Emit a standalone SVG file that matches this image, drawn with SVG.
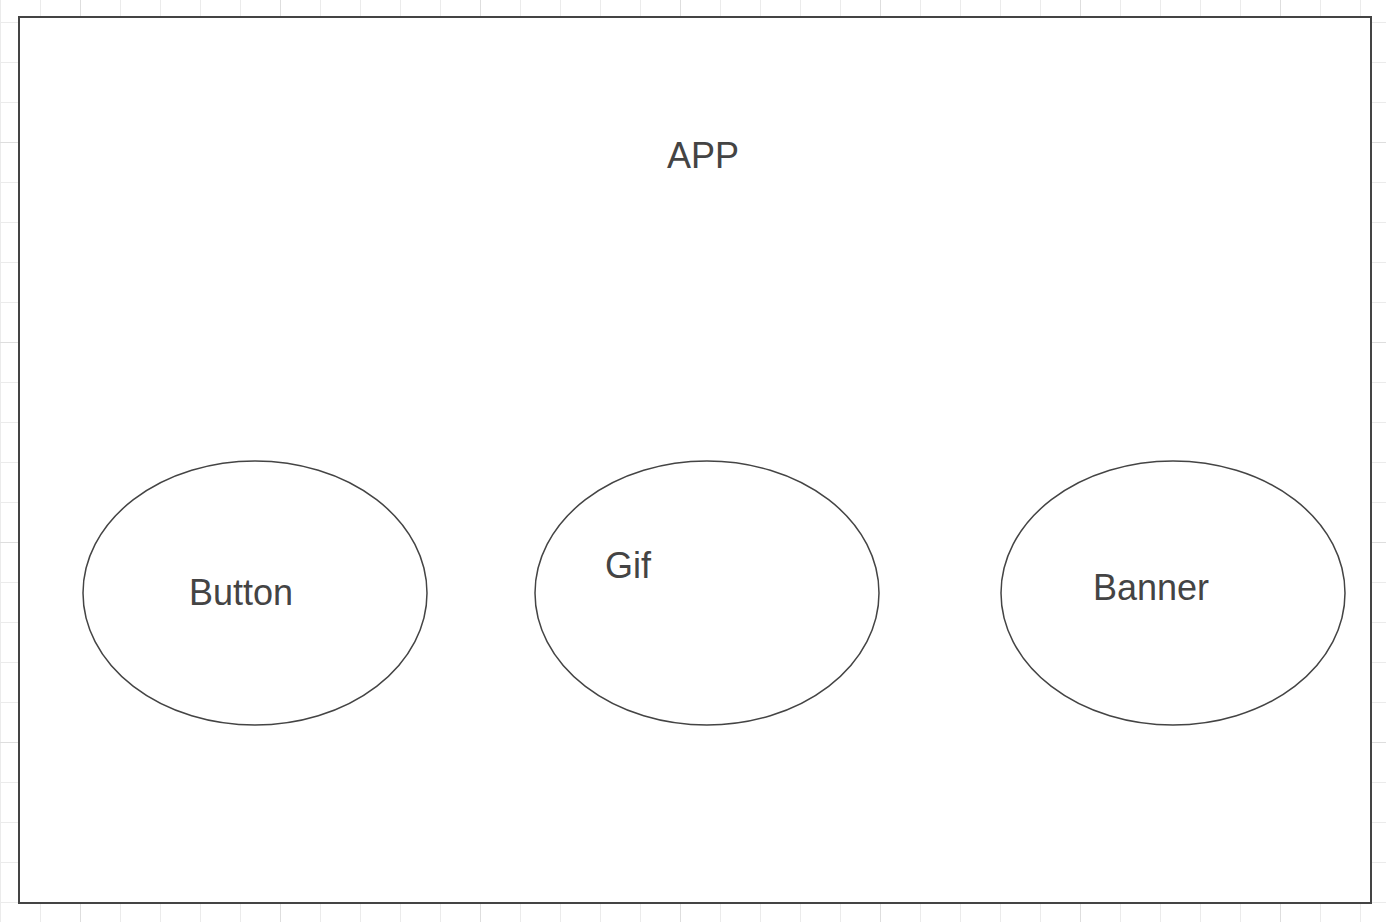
<svg xmlns="http://www.w3.org/2000/svg" width="1386" height="922" viewBox="0 0 1386 922">
  <defs>
    <pattern id="gridMinor" x="0" y="22" width="40" height="40" patternUnits="userSpaceOnUse">
      <path d="M0 0 H40 M0 0 V40" fill="none" stroke="#ebebeb" stroke-width="2"/>
    </pattern>
    <pattern id="gridMajor" x="80" y="142" width="200" height="200" patternUnits="userSpaceOnUse">
      <path d="M0 0 H200 M0 0 V200" fill="none" stroke="#dedede" stroke-width="2"/>
    </pattern>
  </defs>
  <style>
    .frame { fill: #ffffff; stroke: #444444; stroke-width: 2; }
    .node { fill: #ffffff; stroke: #444444; stroke-width: 1.5; }
    .label { font-family: "Liberation Sans", Arial, sans-serif; font-size: 36px; fill: #444444; }
  </style>
  <rect width="1386" height="922" fill="#ffffff"/>
  <rect width="1386" height="922" fill="url(#gridMinor)"/>
  <rect width="1386" height="922" fill="url(#gridMajor)"/>

  <g id="app">
    <rect class="frame" x="19" y="17" width="1352" height="886"/>
    <text class="label" x="667" y="168">APP</text>
  </g>

  <g id="button">
    <ellipse class="node" cx="255" cy="593" rx="172" ry="132"/>
    <text class="label" x="189" y="605">Button</text>
  </g>

  <g id="gif">
    <ellipse class="node" cx="707" cy="593" rx="172" ry="132"/>
    <text class="label" x="605" y="578">Gif</text>
  </g>

  <g id="banner">
    <ellipse class="node" cx="1173" cy="593" rx="172" ry="132"/>
    <text class="label" x="1093" y="600">Banner</text>
  </g>

  <g id="connectors"></g>
</svg>
